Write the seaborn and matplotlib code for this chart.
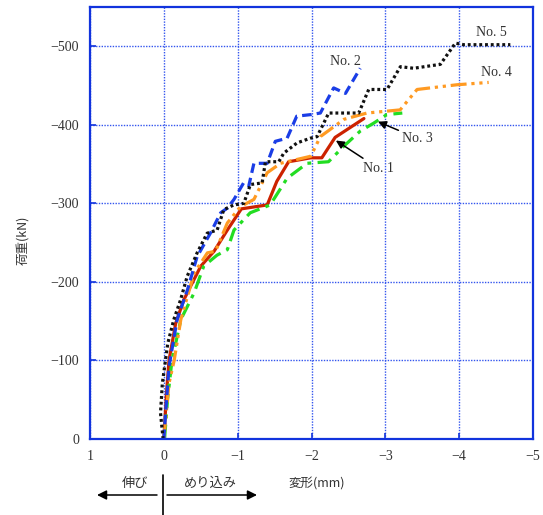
import matplotlib
matplotlib.use("Agg")
import matplotlib.pyplot as plt
import seaborn as sns
import pandas as pd

# ---- data (displacement mm, load kN) ----
no1_x = [0, -0.036, -0.07, -0.16, -0.27, -0.36, -0.5, -0.68, -0.86, -1.05, -1.4, -1.53, -1.69, -1.99, -2.14, -2.32, -2.71]
no1_y = [0, -58, -100, -147, -177, -194, -220, -239, -266, -293, -298, -328, -353, -358, -358, -384, -408]

no2_x = [0, -0.02, -0.07, -0.18, -0.32, -0.45, -0.63, -0.77, -0.86, -0.95, -1.08, -1.15, -1.22, -1.4, -1.51, -1.67, -1.8, -1.99, -2.12, -2.3, -2.46, -2.66]
no2_y = [0, -28, -92, -152, -190, -232, -262, -288, -294, -305, -326, -322, -351, -351, -379, -383, -411, -413, -415, -447, -440, -472]

no3_x = [-0.01, -0.05, -0.11, -0.23, -0.41, -0.54, -0.72, -0.86, -0.95, -1.17, -1.44, -1.67, -1.94, -2.23, -2.44, -2.66, -2.84, -3.02, -3.23]
no3_y = [0, -50, -100, -152, -186, -220, -234, -241, -266, -288, -298, -332, -351, -353, -373, -392, -402, -413, -415]

no4_x = [0, -0.07, -0.14, -0.23, -0.41, -0.59, -0.7, -0.86, -1.04, -1.22, -1.31, -1.4, -1.58, -1.99, -2.12, -2.44, -2.75, -3.2, -3.43, -3.97, -4.4]
no4_y = [0, -71, -100, -152, -211, -237, -239, -275, -296, -305, -322, -339, -351, -360, -385, -407, -415, -419, -445, -451, -454]

no5_x = [0.01, 0.045, 0.02, -0.054, -0.135, -0.226, -0.316, -0.451, -0.587, -0.722, -0.812, -0.948, -1.083, -1.173, -1.331, -1.376, -1.557, -1.625, -1.805, -1.986, -2.076, -2.233, -2.64, -2.775, -3.023, -3.204, -3.384, -3.745, -3.949, -4.061, -4.693]
no5_y = [0, -33, -71, -122, -152, -177, -207, -237, -262, -266, -292, -298, -300, -324, -326, -353, -353, -364, -377, -383, -385, -415, -415, -445, -445, -474, -472, -477, -504, -502, -502]

x_ticks = [1, 0, -1, -2, -3, -4, -5]
y_ticks = [0, -100, -200, -300, -400, -500]

series = [
    ("No. 1", no1_x, no1_y, "#cc2200", None),
    ("No. 3", no3_x, no3_y, "#22dd22", (4.5, 2, 1.2, 2)),
    ("No. 4", no4_x, no4_y, "#ff9a22", (5, 1.5, 1, 1.5, 1, 1.5)),
    ("No. 2", no2_x, no2_y, "#1a3de6", (3, 1.6)),
    ("No. 5", no5_x, no5_y, "#111111", (0.9, 0.9)),
]

sns.set_style("white")
plt.rcParams['font.family'] = ['Liberation Serif', 'DejaVu Serif']
plt.rcParams['axes.unicode_minus'] = True

fig = plt.figure(figsize=(5.43, 5.15), dpi=100)
ax = fig.add_axes([90/543, 1-439/515, 443/543, 432/515])

for name, xs, ys, col, dash in series:
    df = pd.DataFrame({"disp": xs, "load": ys})
    sns.lineplot(data=df, x="disp", y="load", ax=ax, color=col, lw=2.3,
                 sort=False, estimator=None, legend=False)
    ln = ax.lines[-1]
    if dash is not None:
        ln.set_dashes(dash)
        ln.set_dash_capstyle("butt")

ax.set_xlim(1, -5)
ax.set_ylim(0, -550)
ax.set_xticks(x_ticks)
ax.set_yticks(y_ticks)
ax.grid(True, color="#3355ee", linestyle=(0, (1, 1)), lw=1.0)
for s in ax.spines.values():
    s.set_color("#1133dd")
    s.set_linewidth(1.6)
ax.tick_params(direction="in", length=4, width=1.2, color="#1133dd",
               labelsize=10, left=True, bottom=True, pad=8, labelcolor="#333333")

jp = ['Noto Sans CJK JP']
ax.set_xlabel("変形(mm)", fontsize=9, family=jp, color="#333333")
ax.xaxis.set_label_coords((317-90)/443, (439-477)/432)
ax.set_ylabel("荷重(kN)", fontsize=9, family=jp, color="#333333")
ax.yaxis.set_label_coords((29-90)/443, (439-240)/432)

# annotations
tkw = dict(fontsize=10, color="#333333", ha="center", va="center")
ax.text(-2.46, -480, "No. 2", **tkw)
ax.text(-4.43, -518, "No. 5", **tkw)
ax.text(-4.50, -467, "No. 4", **tkw)
aprops = dict(arrowstyle="-|>", color="black", lw=1.1, mutation_scale=12,
              shrinkA=0, shrinkB=0)
ax.annotate("No. 3", xy=(-2.9, -404), xytext=(-3.43, -383), arrowprops=aprops, **tkw)
ax.annotate("No. 1", xy=(-2.33, -380), xytext=(-2.90, -345), arrowprops=aprops, **tkw)

# bottom direction indicator (figure pixels, origin bottom-left)
H = 515
fig.add_artist(plt.Line2D([163/543, 163/543], [0, 1-475/H], color="black", lw=1.2))
ax.annotate("", xy=(97, H-495), xycoords="figure pixels", xytext=(157, H-495),
            textcoords="figure pixels",
            arrowprops=dict(arrowstyle="-|>", color="black", lw=1.1, mutation_scale=14,
                            shrinkA=0, shrinkB=0), annotation_clip=False)
ax.annotate("", xy=(257, H-495), xycoords="figure pixels", xytext=(167, H-495),
            textcoords="figure pixels",
            arrowprops=dict(arrowstyle="-|>", color="black", lw=1.1, mutation_scale=14,
                            shrinkA=0, shrinkB=0), annotation_clip=False)
fig.text(135/543, 1-483/H, "伸び", family=jp, fontsize=9.5, color="#333333", ha="center", va="center")
fig.text(210/543, 1-483/H, "めり込み", family=jp, fontsize=9.5, color="#333333", ha="center", va="center")

fig.savefig("out.png", dpi=100)
